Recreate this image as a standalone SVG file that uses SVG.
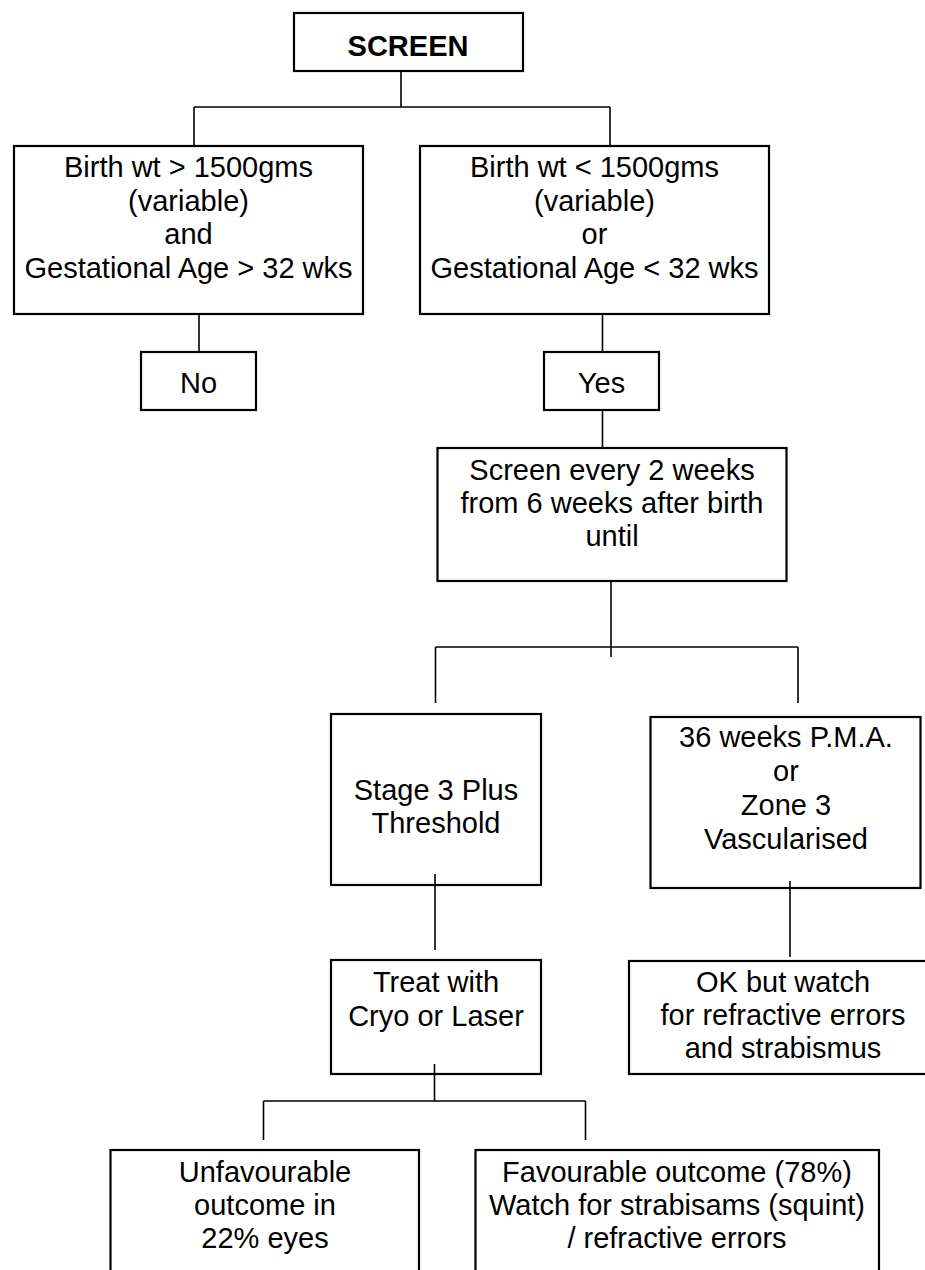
<svg xmlns="http://www.w3.org/2000/svg" width="925" height="1270" viewBox="0 0 925 1270">
<style>
.box{fill:#fff;stroke:#000;stroke-width:2.2}
.t{font-family:"Liberation Sans",Arial,sans-serif;font-size:29px;fill:#000;text-anchor:middle}
.b{font-weight:bold}
.c{fill:none;stroke:#000;stroke-width:1.6}
</style>
<rect width="925" height="1270" fill="#fff"/>
<g id="screen">
<rect class="box" x="294" y="13" width="229" height="58"/>
<text class="t b" x="408" y="56">SCREEN</text>
</g>
<g id="high-weight">
<rect class="box" x="14" y="146" width="349" height="168"/>
<text class="t" x="188.5" y="177">Birth wt &gt; 1500gms</text>
<text class="t" x="188.5" y="211">(variable)</text>
<text class="t" x="188.5" y="244">and</text>
<text class="t" x="188.5" y="278">Gestational Age &gt; 32 wks</text>
</g>
<g id="low-weight">
<rect class="box" x="420" y="146" width="349" height="168"/>
<text class="t" x="594.5" y="177">Birth wt &lt; 1500gms</text>
<text class="t" x="594.5" y="211">(variable)</text>
<text class="t" x="594.5" y="244">or</text>
<text class="t" x="594.5" y="278">Gestational Age &lt; 32 wks</text>
</g>
<g id="no">
<rect class="box" x="141" y="352" width="115" height="58"/>
<text class="t" x="198.5" y="393">No</text>
</g>
<g id="yes">
<rect class="box" x="544" y="352" width="115" height="58"/>
<text class="t" x="601.5" y="393">Yes</text>
</g>
<g id="screen-every">
<rect class="box" x="437.5" y="448" width="349" height="133"/>
<text class="t" x="612" y="480">Screen every 2 weeks</text>
<text class="t" x="612" y="513">from 6 weeks after birth</text>
<text class="t" x="612" y="546">until</text>
</g>
<g id="stage3">
<rect class="box" x="331" y="714" width="210" height="171"/>
<text class="t" x="436" y="800">Stage 3 Plus</text>
<text class="t" x="436" y="833">Threshold</text>
</g>
<g id="weeks36">
<rect class="box" x="650.5" y="717" width="270" height="171"/>
<text class="t" x="786" y="747">36 weeks P.M.A.</text>
<text class="t" x="786" y="781">or</text>
<text class="t" x="786" y="815">Zone 3</text>
<text class="t" x="786" y="849">Vascularised</text>
</g>
<g id="treat">
<rect class="box" x="331" y="960" width="210" height="114"/>
<text class="t" x="436" y="992">Treat with</text>
<text class="t" x="436" y="1026">Cryo or Laser</text>
</g>
<g id="ok">
<rect class="box" x="629" y="961" width="310" height="113"/>
<text class="t" x="783" y="992">OK but watch</text>
<text class="t" x="783" y="1025">for refractive errors</text>
<text class="t" x="783" y="1058">and strabismus</text>
</g>
<g id="unfavourable">
<rect class="box" x="110.5" y="1150" width="308.5" height="140"/>
<text class="t" x="265" y="1182">Unfavourable</text>
<text class="t" x="265" y="1215">outcome in</text>
<text class="t" x="265" y="1248">22% eyes</text>
</g>
<g id="favourable">
<rect class="box" x="475.5" y="1150" width="403.5" height="140"/>
<text class="t" x="677" y="1182">Favourable outcome (78%)</text>
<text class="t" x="677" y="1215">Watch for strabisams (squint)</text>
<text class="t" x="677" y="1248">/ refractive errors</text>
</g>
<g id="connectors">
<path class="c" d="M401 71V107M194 107H610M194 107V146M610 107V146"/>
<path class="c" d="M199 314V352"/>
<path class="c" d="M602.5 314V352M602.5 410V448"/>
<path class="c" d="M611 581V657M435.5 647H798M435.5 647V703M798 647V703"/>
<path class="c" d="M435 874V950"/>
<path class="c" d="M790 881V957"/>
<path class="c" d="M434.5 1064V1101M263.5 1101H585.5M263.5 1101V1140M585.5 1101V1140"/>
</g>
</svg>
